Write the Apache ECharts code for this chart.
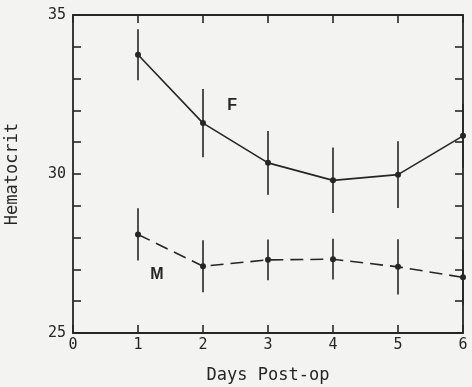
<!DOCTYPE html>
<html><head><meta charset="utf-8">
<script src="https://cdn.jsdelivr.net/npm/echarts@6/dist/echarts.min.js"></script>
<style>html,body{margin:0;padding:0;background:#f3f3f2;}#c{width:472px;height:387px;}</style>
</head><body><div id="c"></div>
<script>
var days = [1, 2, 3, 4, 5, 6];
var femaleMean = [33.75, 31.6, 30.35, 29.8, 29.98, 31.2];
var femaleErr = [0.8, 1.07, 1.0, 1.03, 1.05, 1.0];
var maleMean = [28.1, 27.1, 27.3, 27.32, 27.08, 26.75];
var maleErr = [0.82, 0.82, 0.64, 0.64, 0.87, 0.85];
var yTickLabels = [25, 30, 35];

var ink = '#262626';
var font = 'DejaVu Sans Mono';

function pts(mean) { return days.map(function (d, i) { return [d, mean[i]]; }); }
function errData(mean, err) { return days.map(function (d, i) { return [d, mean[i] - err[i], mean[i] + err[i]]; }); }

function errSeries(mean, err) {
  return {
    type: 'custom',
    data: errData(mean, err),
    encode: { x: 0, y: [1, 2] },
    silent: true,
    z: 3,
    renderItem: function (params, api) {
      var lo = api.coord([api.value(0), api.value(1)]);
      var hi = api.coord([api.value(0), api.value(2)]);
      return {
        type: 'line',
        shape: { x1: lo[0], y1: lo[1], x2: hi[0], y2: hi[1] },
        style: { stroke: ink, lineWidth: 1.6 }
      };
    }
  };
}

function axisLine() { return { show: true, onZero: false, lineStyle: { color: ink, width: 1.8 } }; }
function axisTick() { return { show: true, inside: true, length: 8, lineStyle: { color: ink, width: 1.6 } }; }

var chart = echarts.init(document.getElementById('c'));
chart.setOption({
  backgroundColor: '#f3f3f2',
  animation: false,
  grid: { left: 73, right: 9, top: 15, bottom: 54, containLabel: false, outerBoundsMode: 'none' },
  xAxis: [{
    type: 'value', min: 0, max: 6, interval: 1, position: 'bottom',
    axisLine: axisLine(), axisTick: axisTick(),
    axisLabel: { color: ink, fontFamily: font, fontSize: 15, margin: 5 },
    splitLine: { show: false },
    name: 'Days Post-op', nameLocation: 'middle', nameGap: 34,
    nameTextStyle: { color: ink, fontFamily: font, fontSize: 17 }
  }, {
    type: 'value', min: 0, max: 6, interval: 1, position: 'top',
    axisLine: axisLine(), axisTick: axisTick(),
    axisLabel: { show: false },
    splitLine: { show: false }
  }],
  yAxis: [{
    type: 'value', min: 25, max: 35, interval: 1, position: 'left',
    axisLine: axisLine(), axisTick: axisTick(),
    axisLabel: {
      color: ink, fontFamily: font, fontSize: 15, margin: 7,
      formatter: function (v) { return yTickLabels.indexOf(v) >= 0 ? String(v) : ''; }
    },
    splitLine: { show: false },
    name: 'Hematocrit', nameLocation: 'middle', nameGap: 52, nameRotate: 90,
    nameTextStyle: { color: ink, fontFamily: font, fontSize: 17 }
  }, {
    type: 'value', min: 25, max: 35, interval: 1, position: 'right',
    axisLine: axisLine(), axisTick: axisTick(),
    axisLabel: { show: false },
    splitLine: { show: false }
  }],
  series: [
    {
      type: 'line', data: pts(femaleMean), symbol: 'circle', symbolSize: 6,
      lineStyle: { color: ink, width: 1.6 }, itemStyle: { color: ink }, z: 4,
      markPoint: {
        symbol: 'rect', symbolSize: 1, itemStyle: { color: 'rgba(0,0,0,0)' },
        label: { show: true, formatter: 'F', color: ink, fontFamily: 'Liberation Sans', fontWeight: 'bold', fontSize: 16 },
        data: [{ coord: [2.45, 32.15] }]
      }
    },
    errSeries(femaleMean, femaleErr),
    {
      type: 'line', data: pts(maleMean), symbol: 'circle', symbolSize: 6,
      lineStyle: { color: ink, width: 1.6, type: [13, 7] }, itemStyle: { color: ink }, z: 4,
      markPoint: {
        symbol: 'rect', symbolSize: 1, itemStyle: { color: 'rgba(0,0,0,0)' },
        label: { show: true, formatter: 'M', color: ink, fontFamily: 'Liberation Sans', fontWeight: 'bold', fontSize: 16 },
        data: [{ coord: [1.29, 26.85] }]
      }
    },
    errSeries(maleMean, maleErr)
  ]
});
</script></body></html>
